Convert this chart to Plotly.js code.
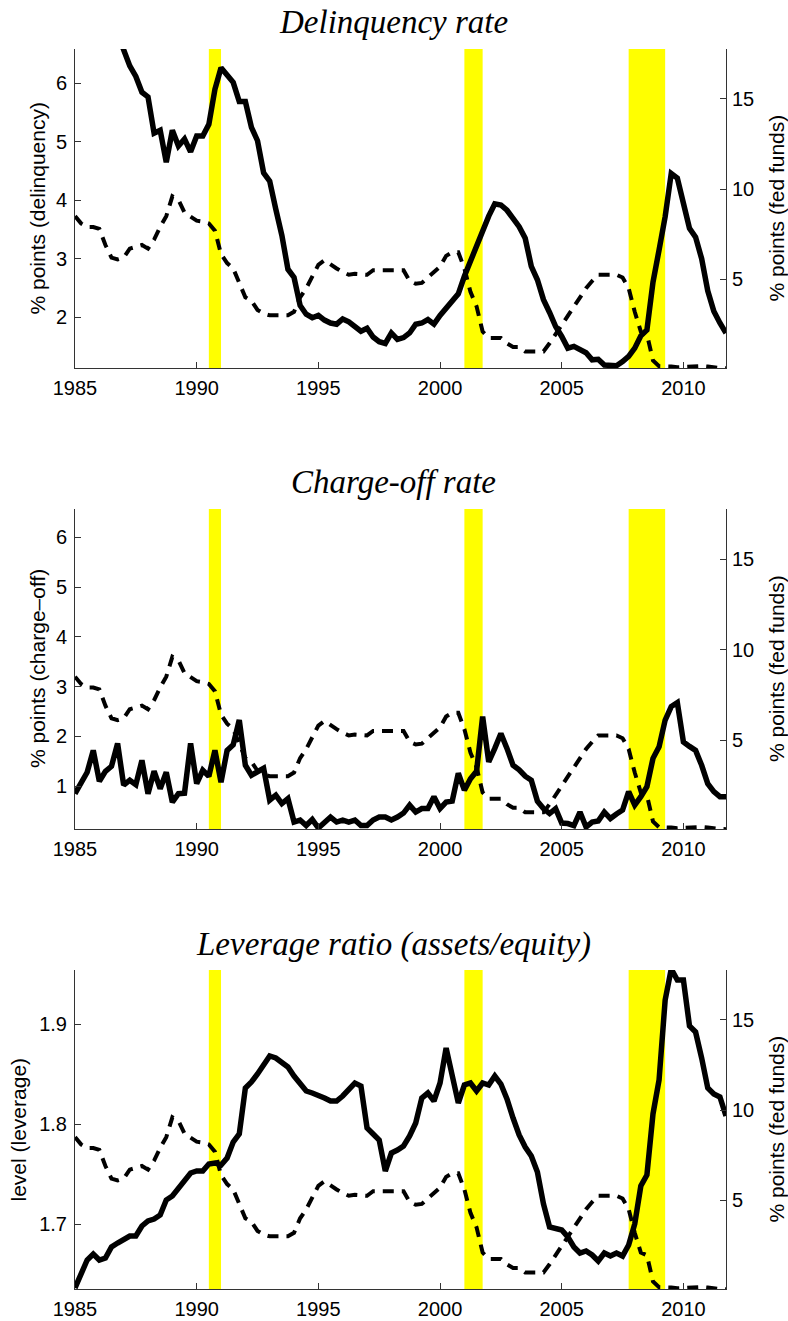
<!DOCTYPE html>
<html>
<head>
<meta charset="utf-8">
<script src="https://cdn.plot.ly/plotly-3.0.1.min.js"></script>
<style>html,body{margin:0;padding:0;background:#fff;}#chart{width:788px;height:1321px;}</style>
</head>
<body>
<div id="chart"></div>
<script>
// Quarterly timeline 1985Q1 .. 2011Q4
const startYear = 1985, endYear = 2011;
const quarters = [];
for (let y = startYear; y <= endYear; y++) for (let q = 0; q < 4; q++) quarters.push(y + q * 0.25);

const xTickVals = [1985, 1990, 1995, 2000, 2005, 2010];
const recessions = [[1990.5, 1991.0], [2001.0, 2001.75], [2007.75, 2009.25]];

const panelTitles = ["Delinquency rate", "Charge-off rate", "Leverage ratio (assets/equity)"];
const leftTitles = ["% points (delinquency)", "% points (charge\u2013off)", "level (leverage)"];
const rightTitle = "% points (fed funds)";

const fedFunds = [
  8.5,8.1,7.9,7.9,
  7.8,6.9,6.2,6.1,
  6.2,6.7,6.8,6.9,
  6.7,7.2,7.9,8.5,
  9.6,9.4,8.7,8.5,
  8.25,8.2,8.1,7.7,
  6.4,5.9,5.6,4.8,
  4.0,3.8,3.3,3.1,
  3.0,3.0,3.0,3.0,
  3.2,4.0,4.5,5.2,
  5.8,6.05,5.8,5.6,
  5.4,5.25,5.3,5.3,
  5.25,5.5,5.5,5.5,
  5.5,5.5,5.5,4.9,
  4.75,4.8,5.1,5.35,
  5.7,6.3,6.5,6.5,
  5.6,4.3,3.5,2.1,
  1.75,1.75,1.75,1.45,
  1.25,1.25,1.0,1.0,
  1.0,1.0,1.45,1.95,
  2.5,2.95,3.45,3.95,
  4.5,4.9,5.25,5.25,
  5.25,5.25,5.1,4.5,
  3.2,2.1,1.95,0.5,
  0.18,0.18,0.16,0.12,
  0.13,0.19,0.19,0.19,
  0.16,0.1,0.08,0.07
];

const delinquency = [
  null,null,null,null,
  null,null,null,6.85,
  6.55,6.3,6.12,5.85,
  5.77,5.15,5.2,4.65,
  5.2,4.93,5.05,4.83,
  5.1,5.1,5.3,5.9,
  6.27,6.13,6.02,5.69,
  5.69,5.25,5.02,4.47,
  4.33,3.85,3.4,2.82,
  2.68,2.2,2.05,1.99,
  2.03,1.95,1.9,1.88,
  1.97,1.92,1.85,1.76,
  1.81,1.66,1.58,1.55,
  1.73,1.62,1.65,1.73,
  1.88,1.9,1.96,1.88,
  2.03,2.15,2.25,2.4,
  2.7,2.95,3.26,3.45,
  3.73,3.94,3.92,3.83,
  3.68,3.55,3.35,2.87,
  2.64,2.3,2.08,1.84,
  1.67,1.47,1.5,1.44,
  1.39,1.27,1.28,1.18,
  1.18,1.17,1.24,1.33,
  1.47,1.68,1.78,2.6,
  3.15,3.72,4.46,4.38,
  3.95,3.52,3.37,3.0,
  2.45,2.1,1.9,1.73
];

const chargeOff = [
  0.85,1.05,1.28,1.72,
  1.1,1.3,1.4,1.86,
  1.02,1.12,1.03,1.52,
  0.85,1.3,0.95,1.28,
  0.68,0.85,0.86,1.86,
  1.05,1.32,1.2,1.72,
  1.08,1.72,1.83,2.33,
  1.42,1.22,1.3,1.36,
  0.72,0.82,0.65,0.75,
  0.28,0.32,0.21,0.33,
  0.16,0.28,0.38,0.28,
  0.32,0.28,0.32,0.21,
  0.21,0.32,0.38,0.38,
  0.32,0.38,0.46,0.62,
  0.48,0.55,0.55,0.79,
  0.55,0.68,0.7,1.26,
  0.92,1.15,1.3,2.4,
  1.49,1.76,2.06,1.76,
  1.42,1.33,1.2,1.12,
  0.7,0.55,0.45,0.55,
  0.26,0.25,0.21,0.48,
  0.18,0.28,0.3,0.48,
  0.35,0.44,0.52,0.89,
  0.62,0.79,0.99,1.56,
  1.79,2.33,2.6,2.68,
  1.89,1.8,1.72,1.42,
  1.05,0.89,0.79,0.79
];

const leverage = [
  1.636,1.651,1.664,1.670,
  1.664,1.666,1.677,1.681,
  1.685,1.688,1.688,1.698,
  1.703,1.705,1.709,1.724,
  1.728,1.735,1.744,1.751,
  1.753,1.753,1.760,1.761,
  1.759,1.766,1.782,1.790,
  1.836,1.842,1.850,1.860,
  1.868,1.866,1.862,1.857,
  1.848,1.840,1.833,1.831,
  1.829,1.826,1.823,1.823,
  1.828,1.835,1.841,1.838,
  1.796,1.790,1.784,1.753,
  1.771,1.774,1.778,1.788,
  1.801,1.826,1.831,1.823,
  1.841,1.876,1.849,1.821,
  1.839,1.841,1.833,1.841,
  1.839,1.848,1.840,1.825,
  1.806,1.789,1.777,1.768,
  1.752,1.720,1.697,1.696,
  1.694,1.687,1.677,1.671,
  1.673,1.669,1.663,1.671,
  1.668,1.671,1.668,1.679,
  1.700,1.738,1.749,1.810,
  1.844,1.924,1.955,1.944,
  1.944,1.898,1.892,1.866,
  1.836,1.830,1.827,1.808
];

const leftTicks = [[2,3,4,5,6],[1,2,3,4,5,6],[1.7,1.8,1.9]];
const leftTickText = [["2","3","4","5","6"],["1","2","3","4","5","6"],["1.7","1.8","1.9"]];
const rightTicks = [5,10,15];

// ---- layout geometry ----
const W = 788, H = 1321;
const plotTop = [49, 509, 970], plotBot = [368, 829, 1289];
const leftRanges = [[1.13, 6.59], [0.14, 6.57], [1.635, 1.954]];
const rightRange = [0.08, 17.77];
const series = [delinquency, chargeOff, leverage];
const leftTitleX = [37, 37, 18];

const tickFont = {family: "Liberation Sans, Arial, sans-serif", size: 20, color: "#000"};
const baseAxis = {
  showline: true, linecolor: "#333", linewidth: 1, ticks: "inside", ticklen: 6,
  tickcolor: "#333", tickwidth: 1, showgrid: false, zeroline: false, tickfont: tickFont,
  mirror: false, fixedrange: true
};

const data = [];
const layout = {
  width: W, height: H, margin: {l: 75, r: 62, t: 0, b: 0},
  paper_bgcolor: "#fff", plot_bgcolor: "#fff", showlegend: false,
  shapes: [], annotations: []
};

for (let p = 0; p < 3; p++) {
  const xName = p === 0 ? "x" : "x" + (p + 1);
  const yL = p === 0 ? "y" : "y" + (2 * p + 1);
  const yR = "y" + (2 * p + 2);
  const dom = [1 - plotBot[p] / H, 1 - plotTop[p] / H];
  layout["xaxis" + (p === 0 ? "" : p + 1)] = Object.assign({}, baseAxis, {
    range: [1985, 2011.75], tickvals: xTickVals, ticktext: xTickVals.map(String),
    anchor: yL, domain: [0, 1], ticklabelstandoff: 2
  });
  layout["yaxis" + (p === 0 ? "" : 2 * p + 1)] = Object.assign({}, baseAxis, {
    range: leftRanges[p], tickvals: leftTicks[p], ticktext: leftTickText[p],
    domain: dom, anchor: xName, side: "left", ticklabelstandoff: 3
  });
  layout["yaxis" + (2 * p + 2)] = Object.assign({}, baseAxis, {
    range: rightRange, tickvals: rightTicks, ticktext: rightTicks.map(String),
    overlaying: yL, anchor: xName, side: "right", ticklabelstandoff: 1
  });

  recessions.forEach(r => layout.shapes.push({
    type: "rect", xref: xName, yref: yL + " domain", x0: r[0], x1: r[1], y0: 0, y1: 1,
    fillcolor: "#ffff00", line: {width: 0}, layer: "below"
  }));

  data.push({
    x: quarters, y: series[p], xaxis: xName, yaxis: yL, type: "scatter", mode: "lines",
    line: {color: "#000", width: 5.5}, connectgaps: false, hoverinfo: "skip"
  });
  data.push({
    x: quarters, y: fedFunds, xaxis: xName, yaxis: yR, type: "scatter", mode: "lines",
    line: {color: "#000", width: 4, dash: "11px,8px"}, hoverinfo: "skip"
  });

  const titleY = [22, 482, 944][p];
  layout.annotations.push({
    text: panelTitles[p], xref: "paper", yref: "paper",
    x: (393 - 75) / (W - 75 - 62), y: 1 - titleY / H, xanchor: "center", yanchor: "middle",
    showarrow: false, font: {family: "Liberation Serif, Times New Roman, serif", size: 33, color: "#000", style: "italic"}
  });
  const midY = 1 - (plotTop[p] + plotBot[p]) / 2 / H;
  layout.annotations.push({
    text: leftTitles[p], xref: "paper", yref: "paper",
    x: (leftTitleX[p] - 75) / (W - 75 - 62), y: midY, xanchor: "center", yanchor: "middle",
    textangle: -90, showarrow: false, font: {family: "Liberation Sans, Arial, sans-serif", size: 21, color: "#000"}
  });
  layout.annotations.push({
    text: rightTitle, xref: "paper", yref: "paper",
    x: (776 - 75) / (W - 75 - 62), y: midY, xanchor: "center", yanchor: "middle",
    textangle: -90, showarrow: false, font: {family: "Liberation Sans, Arial, sans-serif", size: 21, color: "#000"}
  });
}

Plotly.newPlot("chart", data, layout, {displayModeBar: false, staticPlot: true});
</script>
</body>
</html>
